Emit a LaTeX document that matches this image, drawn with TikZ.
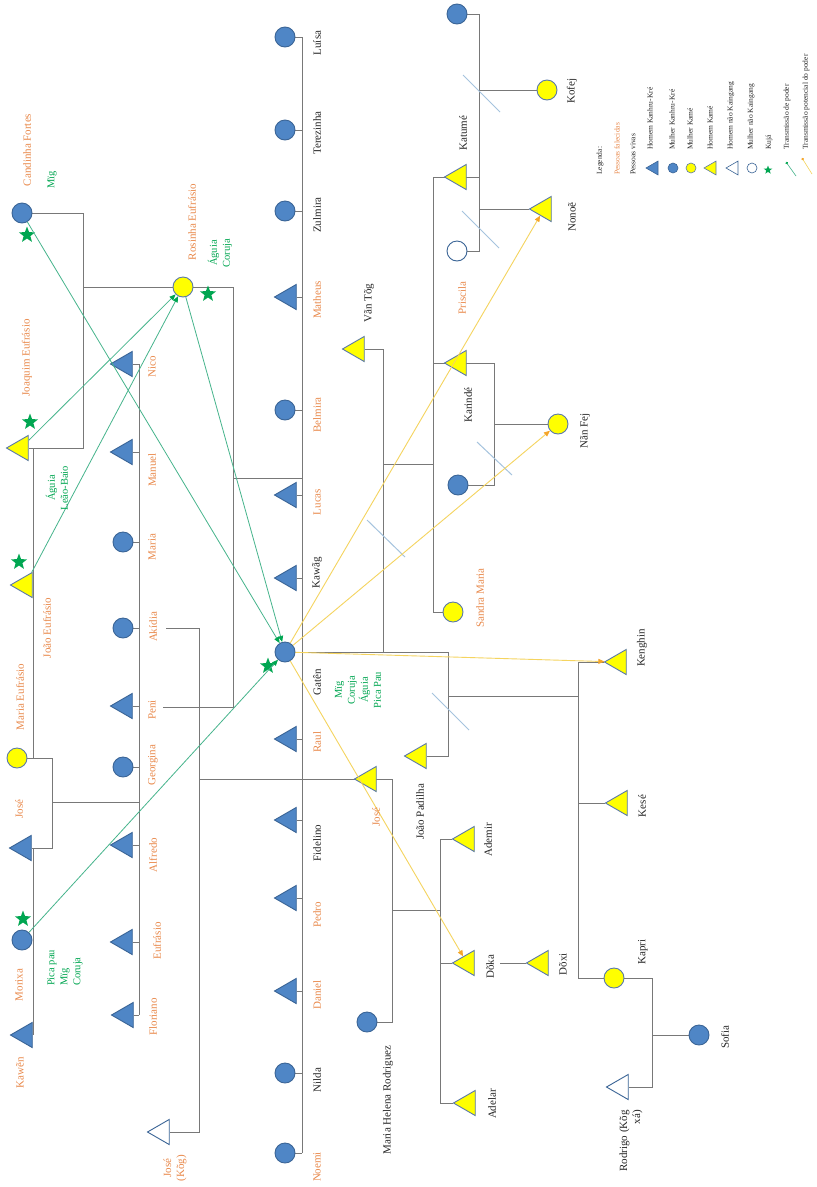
\documentclass[tikz,border=0pt]{standalone}
\usepackage{fontspec}
\setmainfont{Liberation Serif}
\usetikzlibrary{shapes.geometric,arrows.meta}
\definecolor{kblue}{RGB}{79,134,198}
\definecolor{kblueline}{RGB}{58,100,150}
\definecolor{kyellow}{RGB}{255,255,0}
\definecolor{kyline}{RGB}{90,120,170}
\definecolor{korange}{RGB}{233,137,75}
\definecolor{kgreen}{RGB}{0,166,81}
\definecolor{kgline}{RGB}{70,180,140}
\definecolor{kgray}{RGB}{120,120,120}
\definecolor{kslash}{RGB}{165,195,222}
\definecolor{kyarrow}{RGB}{245,212,95}
\definecolor{kytip}{RGB}{245,165,40}
\pgfdeclarelayer{bg}
\pgfdeclarelayer{lines}
\pgfsetlayers{bg,lines,main}
\tikzset{
 person/.style={inner sep=0pt, line width=0.9pt},
 tri/.style={person, regular polygon, regular polygon sides=3, shape border rotate=90, minimum size=29pt},
 circ/.style={person, circle, minimum size=20pt},
 btri/.style={tri, fill=kblue, draw=kblueline},
 ytri/.style={tri, fill=kyellow, draw=kyline},
 otri/.style={tri, fill=white, draw=kblueline},
 bcirc/.style={circ, fill=kblue, draw=kblueline},
 ycirc/.style={circ, fill=kyellow, draw=kyline},
 ocirc/.style={circ, fill=white, draw=kblueline},
 kstar/.style={star, star points=5, star point ratio=2.4, minimum size=17pt, inner sep=0pt, fill=kgreen},
 lbl/.style={rotate=90, font=\fontsize{11}{13}\selectfont, inner sep=1pt},
 blk/.style={lbl, text=black!85},
 org/.style={lbl, text=korange, align=center},
 grn/.style={rotate=90, inner sep=1pt, text=kgreen, align=center, font=\fontsize{10.5}{13}\selectfont},
 rel/.style={draw=kgray, line width=0.8pt},
 slash/.style={draw=kslash, line width=1pt},
 garrow/.style={draw=kgline, line width=0.8pt, -{Triangle[length=6pt,width=5pt,color=kgreen]}},
 yarrow/.style={draw=kyarrow, line width=0.9pt, -{Triangle[length=6pt,width=5pt,color=kytip]}},
 leg/.style={rotate=90, anchor=west, font=\fontsize{7.5}{9}\selectfont, inner sep=0pt, text=black!85},
}
\begin{document}
\begin{tikzpicture}[x=1pt,y=-1pt]
\begin{pgfonlayer}{bg}
\fill[white] (0,0) rectangle (817,1187);
\end{pgfonlayer}
\useasboundingbox (0,0) rectangle (817,1187);

% ---------------- persons ----------------
% left column
\node[bcirc] (cand) at (22,213) {};
\node[ytri] (joaq) at (21,448) {};
\node[ytri] (joaoE) at (25,585) {};
\node[ycirc] (mariaE) at (17,758) {};
\node[btri] (joseL) at (24,848) {};
\node[bcirc] (morixa) at (22,940) {};
\node[btri] (kawen) at (25,1035) {};
\node[ycirc] (rosinha) at (183,287) {};
% middle column
\node[btri] (nico) at (125,364) {};
\node[btri] (manuel) at (125,452) {};
\node[bcirc] (mariaM) at (123,542) {};
\node[bcirc] (akidia) at (123,628) {};
\node[btri] (peni) at (125,706) {};
\node[bcirc] (georgina) at (123,767) {};
\node[btri] (alfredo) at (125,845) {};
\node[btri] (eufrasio) at (125,942) {};
\node[btri] (floriano) at (126,1015) {};
\node[otri] (joseKog) at (162,1132) {};
% main column
\node[bcirc] (luisa) at (285,37) {};
\node[bcirc] (terezinha) at (285,130) {};
\node[bcirc] (zulmira) at (285,211) {};
\node[btri] (matheus) at (289,297) {};
\node[bcirc] (belmira) at (285,410) {};
\node[btri] (lucas) at (289,495) {};
\node[btri] (kawag) at (289,578) {};
\node[bcirc] (gaten) at (285,652) {};
\node[btri] (raul) at (289,739) {};
\node[btri] (fidelino) at (289,820) {};
\node[btri] (pedro) at (289,898) {};
\node[btri] (daniel) at (289,991) {};
\node[bcirc] (nilda) at (285,1073) {};
\node[bcirc] (noemi) at (285,1153) {};
% right part
\node[bcirc] (topc) at (457,14) {};
\node[ycirc] (kofej) at (547,90) {};
\node[ytri] (katume) at (459,177) {};
\node[ytri] (nonoe) at (544,209) {};
\node[ocirc] (priscila) at (457,251) {};
\node[ytri] (vantog) at (357,349) {};
\node[ytri] (karinde) at (459,363) {};
\node[ycirc] (nanfej) at (558,424) {};
\node[bcirc] (karw) at (458,485) {};
\node[ycirc] (sandra) at (453,612) {};
\node[ytri] (joseY) at (369,779) {};
\node[ytri] (joaoP) at (419,756) {};
\node[ytri] (ademir) at (467,839) {};
\node[ytri] (doka) at (467,963) {};
\node[ytri] (doxi) at (541,963) {};
\node[ytri] (adelar) at (468,1103) {};
\node[bcirc] (mhr) at (367,1022) {};
\node[ytri] (kenghin) at (619,662) {};
\node[ytri] (kese) at (620,803) {};
\node[ycirc] (kapri) at (614,978) {};
\node[bcirc] (sofia) at (699,1035) {};
\node[otri] (rodrigo) at (621,1087) {};

% ---------------- junction coordinates ----------------
\coordinate (j2) at (83,448);
\coordinate (j3) at (83,287);
\coordinate (r1) at (233,707);
\coordinate (r2) at (163,707);
\coordinate (r3) at (233,478);
\coordinate (l1) at (33,448);
\coordinate (l2) at (33,758);
\coordinate (l3) at (52,848);
\coordinate (l4) at (52,802);
\coordinate (l5) at (33,848);
\coordinate (l6) at (33,1035);
\coordinate (mtop) at (139,364);
\coordinate (mbot) at (139,1015);
\coordinate (a1) at (166,628);
\coordinate (a2) at (199,1132);
\coordinate (a3) at (199,779);
\coordinate (a4) at (392,779);
\coordinate (d1) at (392,910);
\coordinate (d2) at (440,910);
\coordinate (d3) at (440,839);
\coordinate (d4) at (440,1103);
\coordinate (d5) at (500,963);
\coordinate (mltop) at (302,37);
\coordinate (mlbot) at (302,1153);
\coordinate (g1) at (448,756);
\coordinate (g2) at (448,696);
\coordinate (k1) at (578,978);
\coordinate (p1) at (652,1087);
\coordinate (p2) at (652,1035);
\coordinate (v1) at (383,653);
\coordinate (v2) at (383,464);
\coordinate (v3) at (433,464);
\coordinate (s1) at (433,177);
\coordinate (t1) at (479,177);
\coordinate (t2) at (479,251);
\coordinate (t3) at (479,90);
\coordinate (t4) at (479,209);
\coordinate (kr1) at (433,363);
\coordinate (kr2) at (494,363);
\coordinate (kr3) at (494,424);

% ---------------- kinship lines ----------------
\begin{pgfonlayer}{lines}
\draw[rel] (cand) -| (j2) -- (joaq);
\draw[rel] (j3) -- (rosinha);
\draw[rel] (rosinha) -| (r1) -- (r2);
\draw[rel] (r3) -- (r3 -| mltop);
\draw[rel] (l1) -- (l2);
\draw[rel] (mariaE) -| (l3) -- (joseL);
\draw[rel] (l4) -- (l4 -| mtop);
\draw[rel] (l5) -- (l6);
\draw[rel] (mtop) -- (mbot);
\foreach \n in {nico,manuel,mariaM,akidia,peni,georgina,alfredo,eufrasio,floriano}
  \draw[rel] (\n) -- (\n -| mtop);
\draw[rel] (a1) -| (a2) -- (joseKog);
\draw[rel] (a3) -- (a4) |- (mhr);
\draw[rel] (d1) -- (d2);
\draw[rel] (d3) -- (d4);
\foreach \n in {ademir,doka,adelar}
  \draw[rel] (\n) -- (\n -| d3);
\draw[rel] (d5) -- (doxi);
\draw[rel] (mltop) -- (mlbot);
\foreach \n in {luisa,terezinha,zulmira,matheus,belmira,lucas,kawag,raul,fidelino,pedro,daniel,nilda,noemi}
  \draw[rel] (\n) -- (\n -| mltop);
\draw[rel] (gaten) -| (g1) -- (joaoP);
\draw[rel] (kenghin) -| (k1) -- (kapri);
\draw[rel] (g2) -- (g2 -| k1);
\draw[rel] (kese) -- (kese -| k1);
\draw[rel] (kapri) -| (p1) -- (rodrigo);
\draw[rel] (p2) -- (sofia);
\draw[rel] (vantog) -| (v1);
\draw[rel] (v2) -- (v3);
\draw[rel] (s1) |- (sandra);
\draw[rel] (s1) -- (t1);
\draw[rel] (topc) -| (t2) -- (priscila);
\draw[rel] (t3) -- (kofej);
\draw[rel] (t4) -- (nonoe);
\draw[rel] (kr1) -- (kr2);
\draw[rel] (kr2) |- (karw);
\draw[rel] (kr3) -- (nanfej);
% separation slashes
\coordinate (sa1) at (463,75); \coordinate (sa2) at (500,112);
\coordinate (sb1) at (462,211); \coordinate (sb2) at (499,248);
\coordinate (sc1) at (477,442); \coordinate (sc2) at (512,475);
\coordinate (sd1) at (367,520); \coordinate (sd2) at (405,557);
\coordinate (se1) at (432,693); \coordinate (se2) at (469,730);
\draw[slash] (sa1) -- (sa2);
\draw[slash] (sb1) -- (sb2);
\draw[slash] (sc1) -- (sc2);
\draw[slash] (sd1) -- (sd2);
\draw[slash] (se1) -- (se2);
\end{pgfonlayer}

% ---------------- stars ----------------
\node[kstar] (st1) at (27,235) {};
\node[kstar] (st2) at (30,422) {};
\node[kstar] (st3) at (19,562) {};
\node[kstar] (st4) at (23,919) {};
\node[kstar] (st5) at (208,294) {};
\node[kstar] (st6) at (268,666) {};

% ---------------- transmission arrows ----------------
\draw[garrow] (cand) -- (gaten);
\draw[garrow] (joaq) -- (rosinha);
\draw[garrow] (joaoE) -- (rosinha);
\draw[garrow] (rosinha) -- (gaten);
\draw[garrow] (morixa) -- (gaten);
\draw[yarrow] (gaten) -- (nonoe);
\draw[yarrow] (gaten) -- (nanfej);
\draw[yarrow] (gaten) -- (kenghin);
\draw[yarrow] (gaten) -- (doka);

% ---------------- labels ----------------
% left column
\node[org] (n-cand) at (27,150) {Candinha Fortes};
\node[grn] (g-cand) at (52,180) {Mïg};
\node[org] (n-joaq) at (27,358) {Joaquim Eufrásio};
\node[grn] (g-joaq) at (57,488) {Águia\\Leão-Baio};
\node[org] (n-joaoE) at (47,628) {João Eufrásio};
\node[org] (n-mariaE) at (20,697) {Maria Eufrásio};
\node[org] (n-joseL) at (19,809) {José};
\node[org] (n-morixa) at (19,985) {Morixa};
\node[grn, align=left] (g-morixa) at (65,968) {Pica pau\\Mïg\\Coruja};
\node[org] (n-kawen) at (20,1073) {Kawẽn};
\node[org] (n-rosinha) at (192,222) {Rosinha Eufrásio};
\node[grn] (g-rosinha) at (220,253) {Águia\\Coruja};
% middle column
\node[org] (n-nico) at (152,367) {Nico};
\node[org] (n-manuel) at (152,470) {Manuel};
\node[org] (n-mariaM) at (152,547) {Maria};
\node[org] (n-akidia) at (153,627) {Akídia};
\node[org] (n-peni) at (152,710) {Peni};
\node[org] (n-georgina) at (153,765) {Georgina};
\node[org] (n-alfredo) at (153,855) {Alfredo};
\node[org] (n-eufrasio) at (157,941) {Eufrásio};
\node[org] (n-floriano) at (153,1017) {Floriano};
\node[org] (n-joseKog) at (175,1168) {José\\(Kõg)};
% main column
\node[blk] (n-luisa) at (317,43) {Luísa};
\node[blk] (n-terezinha) at (317,133) {Terezinha};
\node[blk] (n-zulmira) at (317,215) {Zulmira};
\node[org] (n-matheus) at (317,300) {Matheus};
\node[org] (n-belmira) at (317,415) {Belmira};
\node[org] (n-lucas) at (317,502) {Lucas};
\node[blk] (n-kawag) at (317,573) {Kawãg};
\node[blk] (n-gaten) at (317,682) {Gatên};
\node[grn] (g-gaten) at (358,690) {Mïg\\Coruja\\Águia\\Pica Pau};
\node[org] (n-raul) at (317,742) {Raul};
\node[blk] (n-fidelino) at (317,843) {Fidelino};
\node[org] (n-pedro) at (317,915) {Pedro};
\node[org] (n-daniel) at (317,995) {Daniel};
\node[blk] (n-nilda) at (317,1080) {Nilda};
\node[org] (n-noemi) at (317,1167) {Noemi};
% right part
\node[blk] (n-katume) at (463,133) {Katumé};
\node[blk] (n-kofej) at (572,91) {Kofej};
\node[blk] (n-nonoe) at (572,217) {Nonoẽ};
\node[org] (n-priscila) at (462,298) {Priscila};
\node[blk] (n-vantog) at (369,303) {Vãn Tõg};
\node[blk] (n-karinde) at (468,405) {Karindé};
\node[blk] (n-nanfej) at (585,431) {Nãn Fej};
\node[org] (n-sandra) at (480,598) {Sandra Maria};
\node[blk] (n-joaoP) at (420,812) {João Padilha};
\node[org] (n-joseY) at (376,817) {José};
\node[blk] (n-ademir) at (488,840) {Ademir};
\node[blk] (n-doka) at (490,967) {Dõka};
\node[blk] (n-adelar) at (492,1104) {Adelar};
\node[blk] (n-mhr) at (388,1100) {Maria Helena Rodriguez};
\node[blk] (n-doxi) at (563,964) {Dõxi};
\node[blk] (n-kapri) at (643,952) {Kapri};
\node[blk] (n-sofia) at (725,1037) {Sofia};
\node[blk, align=right] (n-rodrigo) at (631,1141) {Rodrigo (Kõg\\xá)};
\node[blk] (n-kenghin) at (642,648) {Kenghin};
\node[blk] (n-kese) at (642,806) {Kesé};

% ---------------- legend ----------------
\node[leg] (lg0) at (600,175) {Legenda:};
\node[leg, text=korange] (lg1) at (617,175) {Pessoas falecidas};
\node[leg] (lg2) at (633,175) {Pessoas vivas};
\node[btri, minimum size=16pt, line width=0.6pt] (ls1) at (654,168) {};
\node[bcirc, minimum size=10pt, line width=0.6pt] (ls2) at (673,168) {};
\node[ycirc, minimum size=10pt, line width=0.6pt] (ls3) at (691,168) {};
\node[ytri, minimum size=16pt, line width=0.6pt] (ls4) at (712,168) {};
\node[otri, minimum size=16pt, line width=0.6pt] (ls5) at (734,168) {};
\node[ocirc, minimum size=10pt, line width=0.6pt] (ls6) at (752,168) {};
\node[kstar, minimum size=9pt] (ls7) at (768,170) {};
\coordinate (la1) at (796,176); \coordinate (la2) at (786,162);
\coordinate (la3) at (812,174); \coordinate (la4) at (802,158);
\draw[draw=kgline, line width=0.6pt, -{Circle[length=2.5pt,color=kgreen]}] (la1) -- (la2);
\draw[draw=kyarrow, line width=0.6pt, -{Circle[length=2.5pt,color=kytip]}] (la3) -- (la4);
\node[leg] (lt1) at (650,150) {Homem Kanhru-Kré};
\node[leg] (lt2) at (672,150) {Mulher Kanhru-Kré};
\node[leg] (lt3) at (690,150) {Mulher Kamé};
\node[leg] (lt4) at (710,150) {Homem Kamé};
\node[leg] (lt5) at (731,150) {Homem não Kaingang};
\node[leg] (lt6) at (751,150) {Mulher não Kaingang};
\node[leg] (lt7) at (769,150) {Kujá};
\node[leg] (lt8) at (787,150) {Transmissão de poder};
\node[leg] (lt9) at (806,150) {Transmissão potencial do poder};
\end{tikzpicture}
\end{document}
